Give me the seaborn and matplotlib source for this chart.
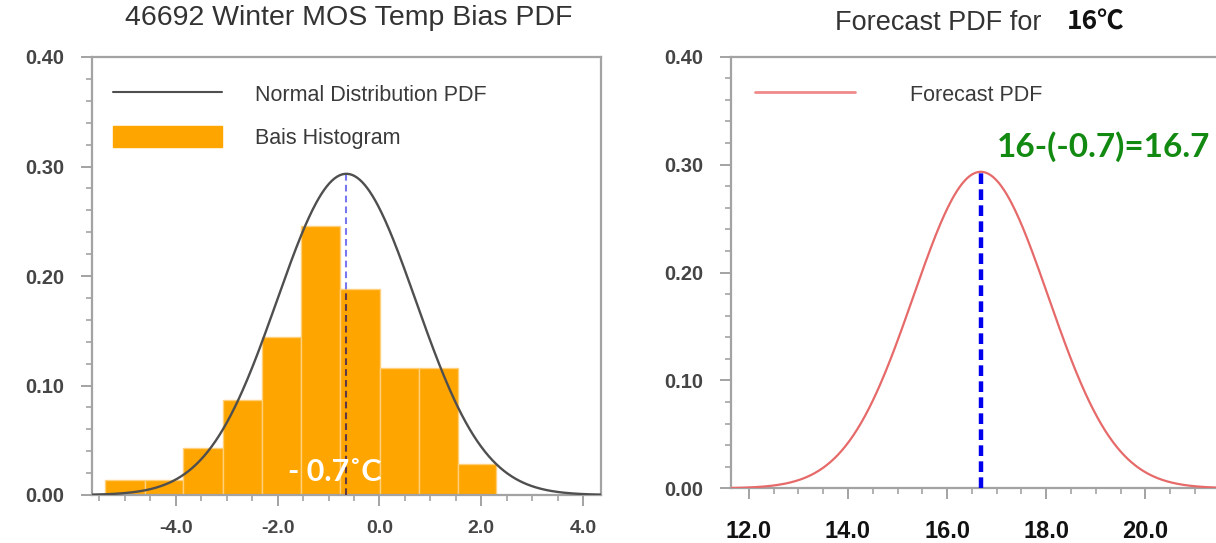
import numpy as np
import pandas as pd
import matplotlib
matplotlib.use("Agg")
import matplotlib.pyplot as plt
import seaborn as sns
from matplotlib.patches import Patch
from matplotlib.lines import Line2D
from matplotlib.ticker import MultipleLocator, FormatStrFormatter, FixedLocator

# ---------------- data ----------------
bias_bin_edges = [-5.38, -4.61, -3.85, -3.08, -2.31, -1.55, -0.78, 0.01, 0.78, 1.54, 2.29]
bias_hist_density = [0.014, 0.014, 0.043, 0.087, 0.144, 0.246, 0.188, 0.116, 0.116, 0.028]
bias_mean = -0.65          # fitted normal mean
bias_std = 1.36            # fitted normal std
forecast_raw = 16.0
forecast_mean = 16.68      # 16 - (-0.7)
forecast_std = 1.36
left_xticks = [-4.0, -2.0, 0.0, 2.0, 4.0]
right_xticks = [12.0, 14.0, 16.0, 18.0, 20.0]
yticks = [0.0, 0.1, 0.2, 0.3, 0.4]
left_title = "46692 Winter MOS Temp Bias PDF"
right_title = "Forecast PDF for "
right_title_value = "16\u2103"
bias_label = "- 0.7\u02daC"
forecast_label = "16-(-0.7)=16.7"
legend_left = ["Normal Distribution PDF", "Bais Histogram"]
legend_right = ["Forecast PDF"]

# ---------------- style ----------------
sns.set_theme(style="white")
plt.rcParams["font.family"] = ["Liberation Sans", "DejaVu Sans"]

W, H = 1216, 543
fig = plt.figure(figsize=(W / 100, H / 100), dpi=100)

def px_rect(x0, y0, x1, y1):
    return [x0 / W, 1 - y1 / H, (x1 - x0) / W, (y1 - y0) / H]

ax1 = fig.add_axes(px_rect(91.7, 57, 601, 495))
ax2 = fig.add_axes(px_rect(731, 56.7, 1240, 488.3))

SPINE = "#a3a3a3"
TICKLAB = "#454545"
ORANGE = "#FFA500"

def style_axes(ax, xticks, xlim):
    ax.set_xlim(*xlim)
    ax.set_ylim(0, 0.4)
    for s in ax.spines.values():
        s.set_visible(True)
        s.set_color(SPINE)
        s.set_linewidth(1.6)
    ax.xaxis.set_major_locator(FixedLocator(xticks))
    ax.xaxis.set_minor_locator(MultipleLocator(0.5))
    ax.yaxis.set_major_locator(FixedLocator(yticks))
    ax.yaxis.set_minor_locator(MultipleLocator(0.02))
    ax.xaxis.set_major_formatter(FormatStrFormatter("%.1f"))
    ax.yaxis.set_major_formatter(FormatStrFormatter("%.2f"))
    ax.tick_params(which="major", direction="out", length=8, width=1.4, color=SPINE,
                   bottom=True, left=True, top=False, right=False)
    ax.tick_params(which="minor", direction="out", length=4, width=1.2, color=SPINE,
                   bottom=True, left=True, top=False, right=False)
    ax.tick_params(axis="y", which="major", labelsize=14.5, labelcolor=TICKLAB, pad=12)
    ax.set_xlabel("")
    ax.set_ylabel("")
    for lab in ax.get_yticklabels():
        lab.set_fontweight("bold")

# ---------------- left panel ----------------
edges = np.array(bias_bin_edges)
hist_df = pd.DataFrame({"center": (edges[:-1] + edges[1:]) / 2,
                        "density": bias_hist_density})
sns.histplot(data=hist_df, x="center", weights="density", bins=list(bias_bin_edges), ax=ax1,
             color=ORANGE, alpha=1.0, edgecolor="#ffcf7a", linewidth=1.0, zorder=2)
xg1 = np.linspace(-5.65, 4.35, 400)
pdf1 = np.exp(-0.5 * ((xg1 - bias_mean) / bias_std) ** 2) / (bias_std * np.sqrt(2 * np.pi))
sns.lineplot(x=xg1, y=pdf1, ax=ax1, color="#4f4f4f", linewidth=1.7, zorder=4)
peak1 = 1 / (bias_std * np.sqrt(2 * np.pi))
bar_idx = np.searchsorted(edges, bias_mean) - 1
bar_h = bias_hist_density[bar_idx]
ax1.plot([bias_mean, bias_mean], [0, bar_h], color="#5e3a48", lw=1.5,
         linestyle=(0, (3.2, 2.0)), zorder=3)
ax1.plot([bias_mean, bias_mean], [bar_h, peak1], color="#7777f2", lw=1.5,
         linestyle=(0, (3.2, 2.0)), zorder=3)
style_axes(ax1, left_xticks, (-5.65, 4.35))
ax1.tick_params(axis="x", which="major", labelsize=14, labelcolor=TICKLAB, pad=10)
for lab in ax1.get_xticklabels():
    lab.set_fontweight("bold")

ax1.text(-0.88, 0.021, bias_label, ha="center", va="center", color="white",
         fontsize=22, fontweight="bold", family=["Lato", "DejaVu Sans"], zorder=6)

h1 = [Line2D([], [], color="#4f4f4f", lw=1.5), Patch(facecolor=ORANGE, edgecolor=ORANGE)]
leg1 = ax1.legend(h1, legend_left, loc="upper left", bbox_to_anchor=(0.041, 0.940),
                  frameon=False, fontsize=15.5, handlelength=5.1, handleheight=1.15,
                  handletextpad=1.5, labelspacing=0.9, borderpad=0, borderaxespad=0)
for t in leg1.get_texts():
    t.set_color("#3a3a3a")

fig.text(349 / W, 1 - 18 / H, left_title, ha="center", va="center", fontsize=20.5,
         color="#333333")

# ---------------- right panel ----------------
xg2 = np.linspace(11.64, 21.91, 400)
pdf2 = np.exp(-0.5 * ((xg2 - forecast_mean) / forecast_std) ** 2) / (forecast_std * np.sqrt(2 * np.pi))
sns.lineplot(x=xg2, y=pdf2, ax=ax2, color="#e66a6a", linewidth=1.6, zorder=3)
peak2 = 1 / (forecast_std * np.sqrt(2 * np.pi))
ax2.plot([forecast_mean, forecast_mean], [0, peak2], color="#0000ee", lw=3.2,
         linestyle=(0, (2.4, 1.2)), zorder=4)
style_axes(ax2, right_xticks, (11.64, 21.91))
ax2.tick_params(axis="x", which="major", labelsize=17, labelcolor="#111111", pad=15)
for lab in ax2.get_xticklabels():
    lab.set_fontweight("bold")

ax2.text(17.0, 0.317, forecast_label, ha="left", va="center", color="#128a12",
         fontsize=24, fontweight="bold", family=["Lato", "DejaVu Sans"], zorder=6)

h2 = [Line2D([], [], color="#f08a8a", lw=2)]
leg2 = ax2.legend(h2, legend_right, loc="upper left", bbox_to_anchor=(0.047, 0.939),
                  frameon=False, fontsize=15.5, handlelength=4.65, handleheight=1.1,
                  handletextpad=2.55, borderpad=0, borderaxespad=0)
for t in leg2.get_texts():
    t.set_color("#3a3a3a")

fig.text(835 / W, 1 - 23 / H, right_title, ha="left", va="center", fontsize=19.5,
         color="#333333")
fig.text(1067 / W, 1 - 22 / H, right_title_value, ha="left", va="center", fontsize=19,
         color="#111111", fontweight="bold",
         family=["Noto Sans CJK SC", "DejaVu Sans"])

fig.savefig("out.png", dpi=100)
